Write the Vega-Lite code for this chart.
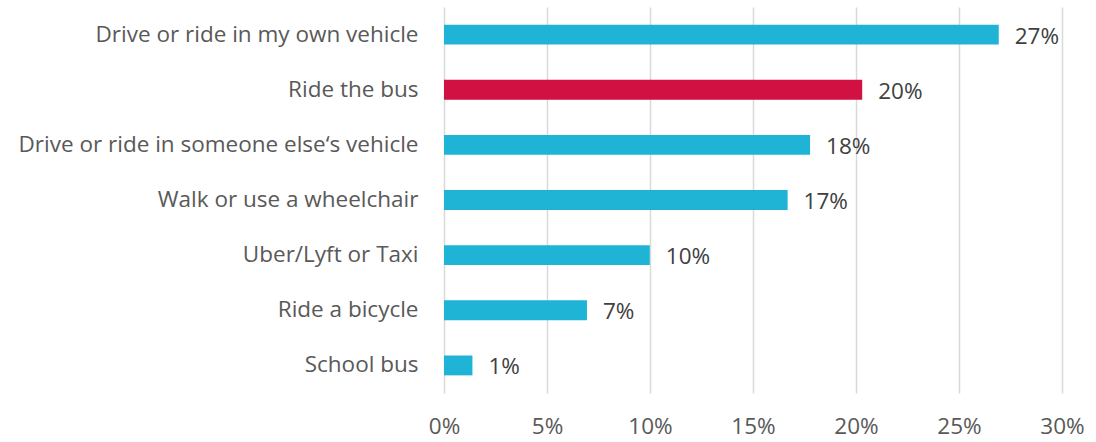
{
  "$schema": "https://vega.github.io/schema/vega-lite/v6.json",
  "autosize": {"type": "none"},
  "padding": {"left": 444, "top": 7, "right": 34, "bottom": 49},
  "width": 618,
  "height": 386,
  "background": "white",
  "config": {"view": {"stroke": null}, "font": "Open Sans"},
  "data": {"values": [
    {"mode": "Drive or ride in my own vehicle", "share": 0.2693, "label": "27%", "hl": "no"},
    {"mode": "Ride the bus", "share": 0.2030, "label": "20%", "hl": "yes"},
    {"mode": "Drive or ride in someone else‘s vehicle", "share": 0.1777, "label": "18%", "hl": "no"},
    {"mode": "Walk or use a wheelchair", "share": 0.1668, "label": "17%", "hl": "no"},
    {"mode": "Uber/Lyft or Taxi", "share": 0.0999, "label": "10%", "hl": "no"},
    {"mode": "Ride a bicycle", "share": 0.0694, "label": "7%", "hl": "no"},
    {"mode": "School bus", "share": 0.0138, "label": "1%", "hl": "no"}
  ]},
  "encoding": {
    "y": {"field": "mode", "type": "nominal", "sort": null,
      "scale": {"paddingInner": 0.64, "paddingOuter": 0.32},
      "axis": {"title": null, "domain": false, "ticks": false, "labelPadding": 26, "labelFontSize": 22.5, "labelColor": "#595959", "labelFont": "Open Sans", "labelLimit": 500}},
    "x": {"field": "share", "type": "quantitative",
      "scale": {"domain": [0, 0.3], "nice": false},
      "axis": {"title": null, "format": ".0%", "values": [0, 0.05, 0.1, 0.15, 0.2, 0.25, 0.3], "domain": false, "ticks": false, "grid": true, "gridColor": "#d9d9d9", "gridWidth": 1.5, "labelFlush": false, "labelPadding": 22, "labelFontSize": 22.5, "labelColor": "#595959", "labelFont": "Open Sans"}}
  },
  "layer": [
    {"mark": {"type": "bar"},
     "encoding": {"color": {"field": "hl", "type": "nominal", "scale": {"domain": ["no", "yes"], "range": ["#1FB3D5", "#D01142"]}, "legend": null}}},
    {"mark": {"type": "text", "align": "left", "dx": 16, "dy": 2, "fontSize": 22.5, "color": "#404040", "font": "Open Sans"},
     "encoding": {"text": {"field": "label"}}}
  ]
}
